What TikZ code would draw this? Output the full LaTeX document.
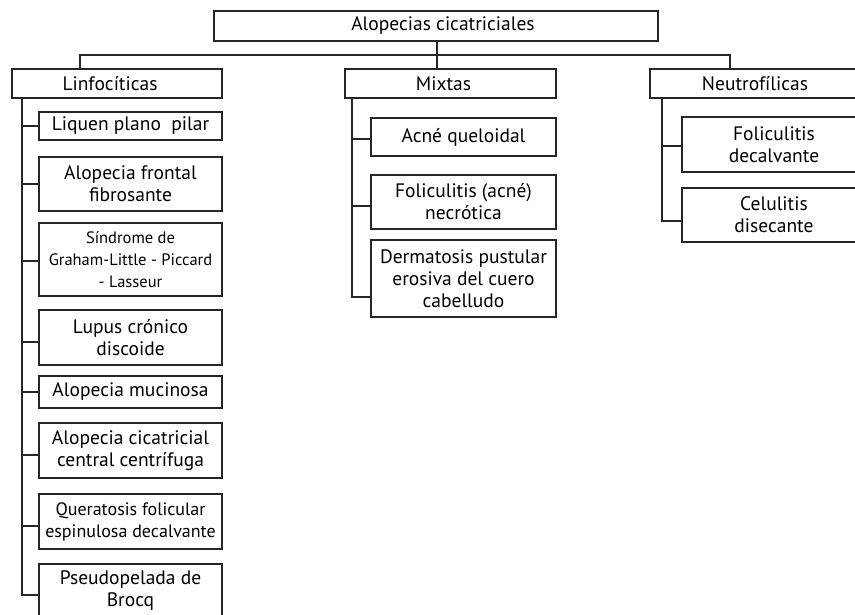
\documentclass[tikz,border=0pt]{standalone}
\usepackage{fontspec}
\setmainfont{PT Sans}
\begin{document}
\begin{tikzpicture}[x=1pt,y=-1pt,
  box/.style={draw=black!85,line width=2pt,fill=white,inner sep=0pt,align=center,
    font=\fontsize{19.5}{22}\selectfont},
  conn/.style={draw=black!85,line width=2pt}]
\useasboundingbox (0,0) rectangle (855,614);
\clip (0,0) rectangle (855,614);
% top and categories
\node[box,minimum width=444,minimum height=30] (top) at (436,26) {\hspace*{14pt}Alopecias cicatriciales};
\node[box,minimum width=210,minimum height=29] (lin) at (117,83.5) {Linfocíticas\hspace*{14pt}};
\node[box,minimum width=211,minimum height=29] (mix) at (450.5,83.5) {Mixtas\hspace*{14pt}};
\node[box,minimum width=211,minimum height=29] (neu) at (755,83.5) {Neutrofílicas};
% bus
\coordinate (busL) at (80,55);
\coordinate (busR) at (730,55);
\draw[conn] (top.south -| 437,0) -- (mix.north -| 437,0);
\draw[conn] (lin.north -| busL) -- (busL) -- (busR) -- (neu.north -| busR);
% Linfociticas children
\node[box,minimum width=183,minimum height=28] (l1) at (130.5,126) {Liquen plano\ \ pilar};
\node[box,minimum width=183,minimum height=54] (l2) at (130.5,184) {Alopecia frontal\\fibrosante};
\node[box,minimum width=183,minimum height=73,font=\fontsize{16.5}{22}\selectfont] (l3) at (130.5,259.5) {Síndrome de\\Graham-Little - Piccard\\- Lasseur};
\node[box,minimum width=183,minimum height=55] (l4) at (130.5,337.5) {Lupus crónico\\discoide};
\node[box,minimum width=183,minimum height=32] (l5) at (130.5,392) {Alopecia mucinosa};
\node[box,minimum width=183,minimum height=55] (l6) at (130.5,450.5) {Alopecia cicatricial\\central centrífuga};
\node[box,minimum width=183,minimum height=55,font=\fontsize{18}{22}\selectfont] (l7) at (130.5,521.5) {Queratosis folicular\\espinulosa decalvante};
\node[box,minimum width=183,minimum height=55] (l8) at (130.5,591) {Pseudopelada de\\Brocq};
\coordinate (tl) at (22,98);
\draw[conn] (lin.south -| tl) |- ([yshift=-4pt]l8.west);
\foreach \b/\s in {l1/0,l2/0,l3/-1,l4/-4,l5/0,l6/-4,l7/-4}
  \draw[conn] ([yshift=\s pt]tl |- \b.west) -- ([yshift=\s pt]\b.west);
% Mixtas children
\node[box,minimum width=185,minimum height=38] (m1) at (463.5,137) {Acné queloidal};
\node[box,minimum width=185,minimum height=54] (m2) at (463.5,202) {Foliculitis (acné)\\necrótica};
\node[box,minimum width=185,minimum height=77] (m3) at (463.5,278.5) {Dermatosis pustular\\erosiva del cuero\\cabelludo};
\coordinate (tm) at (352,98);
\draw[conn] (mix.south -| tm) |- ([yshift=-18pt]m3.west);
\foreach \b/\s in {m1/-2,m2/-4}
  \draw[conn] ([yshift=\s pt]tm |- \b.west) -- ([yshift=\s pt]\b.west);
% Neutrofilicas children
\node[box,minimum width=184,minimum height=55] (n1) at (774,144.5) {Foliculitis\\decalvante};
\node[box,minimum width=184,minimum height=54] (n2) at (774,215) {Celulitis\\disecante};
\coordinate (tn) at (662,98);
\draw[conn] (neu.south -| tn) |- ([yshift=-6pt]n2.west);
\draw[conn] ([yshift=-1.5pt]tn |- n1.west) -- ([yshift=-1.5pt]n1.west);
\end{tikzpicture}
\end{document}
